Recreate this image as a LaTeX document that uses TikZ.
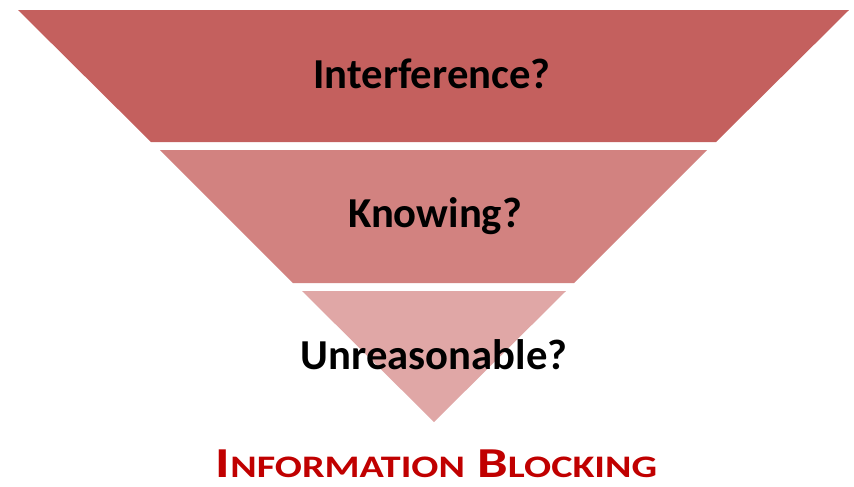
\documentclass[tikz,border=0pt]{standalone}
\usepackage{fontspec}
\setmainfont{Carlito}
\definecolor{bandtop}{RGB}{196,96,94}
\definecolor{bandmid}{RGB}{210,130,128}
\definecolor{bandlow}{RGB}{224,167,166}
\definecolor{titlered}{RGB}{192,0,0}
\begin{document}
\begin{tikzpicture}[x=0.75pt,y=-0.75pt]
        \tikzset{label/.style={font=\fontsize{32}{38}\selectfont\bfseries,anchor=base}};
        \useasboundingbox (0,0) rectangle (854,486);
        \fill[bandtop] (18,10) -- (849,10) -- (716,142) -- (151,142) -- cycle;
        \fill[bandmid] (160,150) -- (707,150) -- (574,283) -- (293,283) -- cycle;
        \fill[bandlow] (302,291) -- (566,291) -- (434,422) -- cycle;
        \node[label] (interference) at (432,88.3) {Interference?};
        \node[label] (knowing) at (435,227.7) {Knowing?};
        \node[label] (unreasonable) at (434,369) {Unreasonable?};
        \node[label,text=titlered,inner sep=0pt] (title) at (436.5,477.5) {\scalebox{1.28}[1]{I{\fontsize{23.5}{28}\selectfont NFORMATION} B{\fontsize{23.5}{28}\selectfont LOCKING}}};
    \end{tikzpicture}
\end{document}
